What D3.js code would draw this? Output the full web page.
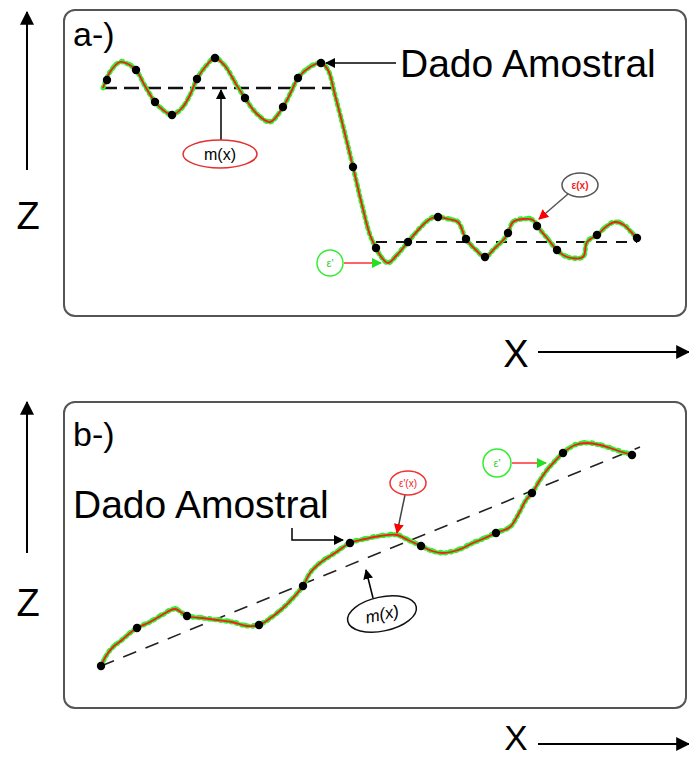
<!DOCTYPE html>
<html><head><meta charset="utf-8">
<script src="https://cdn.jsdelivr.net/npm/d3@7"></script>
<style>html,body{margin:0;padding:0;background:#fff;}svg{display:block;}</style>
</head><body>
<script>
// ---------- DATA (x in horizontal units, z in vertical units) ----------
// Panel a: red/green interpolated surface
const curveAX = [0.3,1.0,2.0,2.8,3.6,4.5,5.5,6.3,7.2,8.2,9.0,9.7,10.6,11.5,12.5,13.6,14.5,15.7,17.0,18.3,19.1,19.8,21.0,22.1,22.8,23.5,24.4,25.3,26.2,27.0,27.6,28.2,28.8,29.7,30.8,32.0,33.0,33.8,34.8,35.8,36.6,37.6,38.5,39.5,40.5,40.8,41.3,42.3,43.3,43.7,44.7,45.7,46.7,48.3,48.7,49.7,50.7,51.5,52.4,53.2,53.7];
const curveAZ = [19.2,20.8,21.8,21.6,21.0,19.4,17.8,17.0,16.5,17.2,18.5,20.1,21.4,22.2,21.4,19.6,18.2,16.6,15.8,17.3,18.8,20.2,21.3,21.7,21.0,18.5,15.0,11.3,7.5,4.5,3.2,2.2,1.7,2.5,3.8,5.2,6.1,6.3,6.1,5.8,4.1,3.0,2.3,3.2,4.2,4.7,5.8,6.1,6.0,5.4,4.2,3.0,2.3,2.3,3.8,4.5,5.4,5.8,5.5,4.7,4.2];
// Panel a: sample points
const sampleAX = [0.7,3.6,5.5,7.2,9.7,11.5,14.5,18.3,19.8,22.1,25.3,27.6,30.8,33.8,36.6,38.5,40.8,43.7,45.7,49.7,53.7];
const sampleAZ = [20.0,21.0,17.8,16.5,20.1,22.2,18.2,17.3,20.2,21.7,11.3,3.2,3.8,6.3,4.1,2.3,4.7,5.4,3.0,4.5,4.2];
// Panel a: trend m(x) (two constant levels)
const trendASegments = [[[0.2,19.2],[23.2,19.2]],[[27.6,3.8],[53.7,3.8]]];

// Panel b
const curveBX = [0.1,0.6,1.3,2.2,3.0,3.7,5.0,6.2,7.5,8.7,10.2,11.7,13.2,14.7,15.9,17.2,18.3,19.3,20.3,21.0,22.0,23.5,25.0,26.5,28.0,29.7,30.8,32.1,33.2,34.3,35.8,37.3,38.5,39.6,41.0,41.8,42.6,43.2,44.0,44.7,45.6,46.3,47.5,48.7,50.0,51.0,52.2,53.2];
const curveBZ = [1.4,2.4,3.3,4.0,4.7,5.2,5.8,6.5,7.1,6.4,6.2,6.0,5.8,5.4,5.5,6.3,7.2,8.2,9.4,10.7,11.7,12.7,13.7,14.1,14.4,14.5,14.0,13.4,12.9,12.7,13.0,13.7,14.2,14.7,15.3,16.5,18.0,18.7,20.0,21.0,22.0,22.7,23.5,23.7,23.5,23.2,22.8,22.5];
const sampleBX = [0.1,3.7,8.7,15.9,20.3,25.0,32.1,39.6,43.2,46.3,53.2];
const sampleBZ = [1.4,5.2,6.4,5.5,9.4,13.7,13.4,14.7,18.7,22.7,22.5];
const trendB = [[0.1,1.4],[54.0,23.3]];

// Text labels
const panelLabels = ["a-)","b-)"];
const sampleLabel = "Dado Amostral";
const axisLabels = {z:"Z", x:"X"};
const trendLabel = "m(x)";
const errLabel = "ε(x)";
const errLabelB = "ε'(x)";
const noiseLabel = "ε'";

// ---------- DRAW ----------
const W = 689, H = 757;
const svg = d3.select("body").append("svg").attr("width", W).attr("height", H)
  .style("font-family", "'Liberation Sans', Arial, sans-serif");

const defs = svg.append("defs");
function marker(id, color){
  defs.append("marker").attr("id", id).attr("viewBox","0 0 10 10").attr("refX",9).attr("refY",5)
    .attr("markerWidth",10).attr("markerHeight",10).attr("markerUnits","userSpaceOnUse").attr("orient","auto")
    .append("path").attr("d","M0,0 L10,5 L0,10 Z").attr("fill", color);
}
marker("arrBlack","#000");
marker("arrGreen","#22e022");
marker("arrRed","#ff0000");
defs.append("marker").attr("id","arrBig").attr("viewBox","0 0 12 12").attr("refX",11).attr("refY",6)
  .attr("markerWidth",14).attr("markerHeight",14).attr("markerUnits","userSpaceOnUse").attr("orient","auto")
  .append("path").attr("d","M0,0 L12,6 L0,12 Z").attr("fill","#000");

const x = d3.scaleLinear().domain([0,54]).range([100,640]);
const zA = d3.scaleLinear().domain([0,28]).range([280,0]);
const zB = d3.scaleLinear().domain([0,30]).range([680,380]);

// panel frames
[[10,316],[402,708]].forEach(([t,b])=>{
  svg.append("rect").attr("x",64).attr("y",t).attr("width",622).attr("height",b-t)
    .attr("rx",11).attr("fill","none").attr("stroke","#555").attr("stroke-width",2);
});

// axis arrows
[[12,170,229,352,367,38],[402,553,616,744,750,35]].forEach(([top,bot,zbase,xy,xbase,xfs])=>{
  svg.append("line").attr("x1",27).attr("x2",27).attr("y1",bot).attr("y2",top)
    .attr("stroke","#000").attr("stroke-width",2).attr("marker-end","url(#arrBig)");
  svg.append("text").attr("x",28).attr("y",zbase).attr("text-anchor","middle")
    .attr("font-size",38).text(axisLabels.z);
  svg.append("text").attr("x",516).attr("y",xbase).attr("text-anchor","middle")
    .attr("font-size",xfs).text(axisLabels.x);
  svg.append("line").attr("x1",538).attr("x2",689).attr("y1",xy).attr("y2",xy)
    .attr("stroke","#000").attr("stroke-width",2).attr("marker-end","url(#arrBig)");
});

// panel labels
svg.append("text").attr("x",73).attr("y",46).attr("font-size",34).text(panelLabels[0]);
svg.append("text").attr("x",73).attr("y",446).attr("font-size",34).text(panelLabels[1]);

function drawCurve(xs, zs, zs_scale){
  const pts = xs.map((d,i)=>[x(d), zs_scale(zs[i])]);
  const line = d3.line().curve(d3.curveCatmullRom.alpha(0.5));
  svg.append("path").attr("d", line(pts)).attr("fill","none").attr("stroke","#33ee33")
    .attr("stroke-width",5).attr("stroke-dasharray","1.5,4").attr("stroke-linecap","round");
  svg.append("path").attr("d", line(pts)).attr("fill","none").attr("stroke","#33ee33")
    .attr("stroke-width",3).attr("stroke-dasharray","2,7").attr("stroke-dashoffset",3).attr("stroke-linecap","round")
    .attr("transform","translate(0,-1.5)");
  svg.append("path").attr("d", line(pts)).attr("fill","none").attr("stroke","#ff1a1a")
    .attr("stroke-width",1.8);
}
function drawDots(xs, zs, zs_scale){
  svg.append("g").selectAll("circle").data(xs).join("circle")
    .attr("cx",(d)=>x(d)).attr("cy",(d,i)=>zs_scale(zs[i])).attr("r",4.2).attr("fill","#000");
}

// ---- Panel a ----
trendASegments.forEach((seg,i)=>{
  svg.append("line").attr("x1",x(seg[0][0])).attr("y1",zA(seg[0][1]))
    .attr("x2",x(seg[1][0])).attr("y2",zA(seg[1][1]))
    .attr("stroke","#111").attr("stroke-width", i===0?2.6:2.2)
    .attr("stroke-dasharray", i===0?"15,7":"11,9");
});
drawCurve(curveAX, curveAZ, zA);
drawDots(sampleAX, sampleAZ, zA);

// Dado Amostral (a)
svg.append("text").attr("x",400).attr("y",77).attr("font-size",39).text(sampleLabel);
svg.append("line").attr("x1",396).attr("y1",63).attr("x2",x(22.1)+5).attr("y2",63)
  .attr("stroke","#000").attr("stroke-width",1.5).attr("marker-end","url(#arrBlack)");

// m(x) ellipse (a)
svg.append("line").attr("x1",221).attr("y1",140).attr("x2",221).attr("y2",zA(19.2)+2)
  .attr("stroke","#000").attr("stroke-width",1.5).attr("marker-end","url(#arrBlack)");
svg.append("ellipse").attr("cx",220).attr("cy",154).attr("rx",37).attr("ry",14)
  .attr("fill","#fff").attr("stroke","#e23030").attr("stroke-width",1.5);
svg.append("text").attr("x",220).attr("y",160).attr("text-anchor","middle").attr("font-size",16).text(trendLabel);

// green ε' (a)
svg.append("circle").attr("cx",330).attr("cy",263).attr("r",13).attr("fill","#fff")
  .attr("stroke","#33ee33").attr("stroke-width",1.5);
svg.append("text").attr("x",330).attr("y",267).attr("text-anchor","middle").attr("font-size",11)
  .attr("fill","#33cc33").text(noiseLabel);
svg.append("line").attr("x1",344).attr("y1",263).attr("x2",381).attr("y2",263)
  .attr("stroke","#ff3030").attr("stroke-width",1.5).attr("marker-end","url(#arrGreen)");

// ε(x) gray ellipse with red arrow (a)
svg.append("line").attr("x1",568).attr("y1",194).attr("x2",539).attr("y2",219)
  .attr("stroke","#555").attr("stroke-width",1.5).attr("marker-end","url(#arrRed)");
svg.append("ellipse").attr("cx",580).attr("cy",185).attr("rx",18).attr("ry",12)
  .attr("fill","#fff").attr("stroke","#555").attr("stroke-width",1.5);
svg.append("text").attr("x",580).attr("y",189).attr("text-anchor","middle").attr("font-size",10)
  .attr("fill","#ee2222").attr("font-weight","bold").text(errLabel);

// ---- Panel b ----
svg.append("line").attr("x1",x(trendB[0][0])).attr("y1",zB(trendB[0][1]))
  .attr("x2",x(trendB[1][0])).attr("y2",zB(trendB[1][1]))
  .attr("stroke","#222").attr("stroke-width",1.6).attr("stroke-dasharray","14,10");
drawCurve(curveBX, curveBZ, zB);
drawDots(sampleBX, sampleBZ, zB);

svg.append("text").attr("x",73).attr("y",518).attr("font-size",39).text(sampleLabel);
svg.append("path").attr("d","M292,528 L292,540 L343,540").attr("fill","none")
  .attr("stroke","#000").attr("stroke-width",1.5).attr("marker-end","url(#arrBlack)");

// red ε'(x) ellipse (b)
svg.append("line").attr("x1",405).attr("y1",495).attr("x2",397).attr("y2",533)
  .attr("stroke","#444").attr("stroke-width",1.5).attr("marker-end","url(#arrRed)");
svg.append("ellipse").attr("cx",408).attr("cy",483).attr("rx",18).attr("ry",12)
  .attr("fill","#fff").attr("stroke","#ee3333").attr("stroke-width",1.5);
svg.append("text").attr("x",408).attr("y",487).attr("text-anchor","middle").attr("font-size",10)
  .attr("fill","#ee2222").text(errLabelB);

// green ε' (b)
svg.append("circle").attr("cx",497).attr("cy",463).attr("r",14).attr("fill","#fff")
  .attr("stroke","#33ee33").attr("stroke-width",1.5);
svg.append("text").attr("x",497).attr("y",467).attr("text-anchor","middle").attr("font-size",11)
  .attr("fill","#33cc33").text(noiseLabel);
svg.append("line").attr("x1",512).attr("y1",463).attr("x2",546).attr("y2",463)
  .attr("stroke","#ff3030").attr("stroke-width",1.5).attr("marker-end","url(#arrGreen)");

// m(x) ellipse (b)
svg.append("line").attr("x1",373).attr("y1",598).attr("x2",366).attr("y2",570)
  .attr("stroke","#000").attr("stroke-width",1.5).attr("marker-end","url(#arrBlack)");
const gm = svg.append("g").attr("transform","translate(382,614) rotate(-12)");
gm.append("ellipse").attr("rx",35).attr("ry",17).attr("fill","#fff").attr("stroke","#111").attr("stroke-width",1.5);
gm.append("text").attr("y",6).attr("text-anchor","middle").attr("font-size",17).attr("font-style","italic").text(trendLabel);
</script>
</body></html>
